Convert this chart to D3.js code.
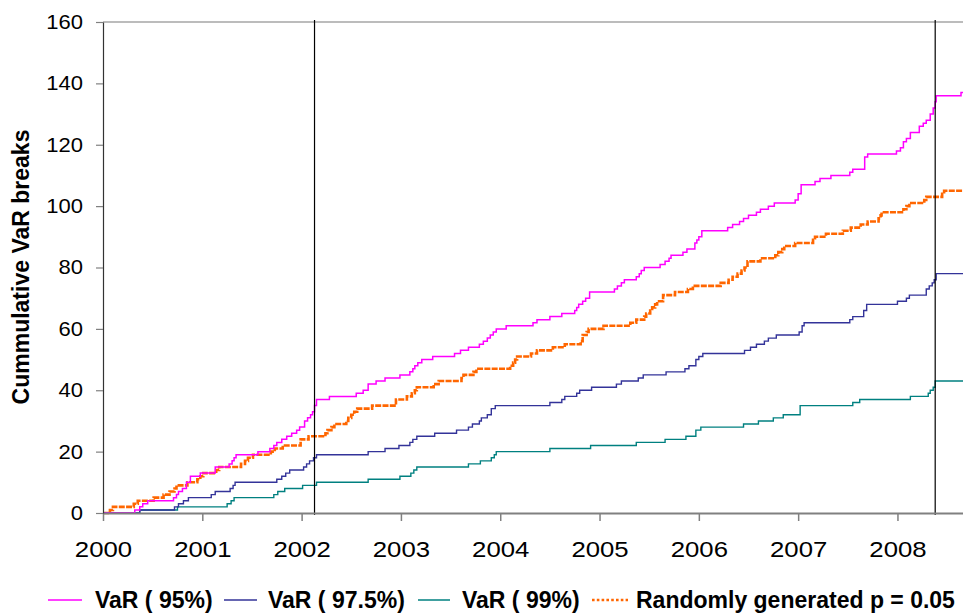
<!DOCTYPE html>
<html>
<head>
<meta charset="utf-8">
<script src="https://cdn.jsdelivr.net/npm/d3@7"></script>
<style>
  body { margin: 0; background: #fff; }
  svg { display: block; font-family: "Liberation Sans", Arial, sans-serif; }
</style>
</head>
<body>
<div id="chart"></div>
<script>
// cumulative VaR breaks, step points: [year, count]
const var95 = [[2000.00,0],[2000.32,1],[2000.37,2],[2000.40,3],[2000.45,4],[2000.71,5],[2000.74,6],[2000.76,7],[2000.80,8],[2000.84,10],[2000.88,12],[2000.98,13],[2001.13,15],[2001.27,16],[2001.30,17],[2001.32,18],[2001.34,19],[2001.56,20],[2001.68,21],[2001.72,22],[2001.75,23],[2001.80,24],[2001.85,25],[2001.90,26],[2001.95,27],[2001.98,28],[2002.03,30],[2002.06,31],[2002.09,32],[2002.11,33],[2002.13,35],[2002.15,37],[2002.28,38],[2002.55,39],[2002.62,40],[2002.67,42],[2002.75,43],[2002.84,44],[2002.99,45],[2003.09,46],[2003.12,47],[2003.14,48],[2003.17,49],[2003.21,50],[2003.32,51],[2003.54,52],[2003.60,53],[2003.68,54],[2003.79,55],[2003.83,56],[2003.87,57],[2003.90,58],[2003.93,59],[2003.96,60],[2004.06,61],[2004.33,62],[2004.37,63],[2004.50,64],[2004.62,65],[2004.75,66],[2004.77,67],[2004.79,68],[2004.83,69],[2004.86,70],[2004.90,72],[2005.15,73],[2005.18,74],[2005.22,75],[2005.25,76],[2005.37,77],[2005.40,78],[2005.42,79],[2005.45,80],[2005.61,81],[2005.66,82],[2005.70,83],[2005.72,84],[2005.84,85],[2005.88,86],[2005.96,88],[2005.98,89],[2006.00,90],[2006.03,92],[2006.29,93],[2006.34,94],[2006.41,95],[2006.45,96],[2006.50,97],[2006.58,98],[2006.62,99],[2006.70,100],[2006.76,101],[2006.97,102],[2007.00,104],[2007.03,107],[2007.17,108],[2007.22,109],[2007.33,110],[2007.52,111],[2007.55,112],[2007.67,116],[2007.70,117],[2007.99,118],[2008.03,119],[2008.06,121],[2008.09,122],[2008.13,124],[2008.22,126],[2008.26,127],[2008.29,128],[2008.33,130],[2008.36,132],[2008.38,134],[2008.39,136],[2008.64,137],[2008.66,137]];

const var975 = [[2000.00,0],[2000.37,1],[2000.72,2],[2000.76,3],[2000.81,4],[2000.86,5],[2001.09,6],[2001.13,7],[2001.28,8],[2001.31,9],[2001.33,10],[2001.75,11],[2001.80,12],[2001.84,13],[2001.88,14],[2002.02,15],[2002.05,16],[2002.08,17],[2002.12,18],[2002.15,19],[2002.67,20],[2002.84,21],[2002.98,22],[2003.09,23],[2003.12,24],[2003.16,25],[2003.34,26],[2003.56,27],[2003.68,28],[2003.72,29],[2003.79,30],[2003.81,31],[2003.87,32],[2003.91,34],[2003.95,35],[2004.50,36],[2004.62,37],[2004.65,38],[2004.77,39],[2004.80,40],[2004.92,41],[2005.17,42],[2005.22,43],[2005.39,44],[2005.44,45],[2005.67,46],[2005.86,47],[2005.90,48],[2005.97,50],[2006.00,51],[2006.04,52],[2006.46,53],[2006.52,54],[2006.58,55],[2006.66,56],[2006.70,57],[2006.78,58],[2007.01,59],[2007.04,61],[2007.06,62],[2007.52,63],[2007.55,64],[2007.66,66],[2007.69,68],[2008.00,69],[2008.09,70],[2008.12,71],[2008.29,73],[2008.32,74],[2008.35,75],[2008.37,76],[2008.39,78],[2008.66,78]];

const var99 = [[2000.00,0],[2000.37,1],[2000.75,2],[2001.25,3],[2001.29,4],[2001.32,5],[2001.72,6],[2001.76,7],[2001.83,8],[2002.01,9],[2002.15,10],[2002.67,11],[2002.99,12],[2003.10,13],[2003.13,14],[2003.16,15],[2003.68,16],[2003.80,17],[2003.91,18],[2003.94,19],[2003.96,20],[2004.50,21],[2004.91,22],[2005.37,23],[2005.66,24],[2005.87,25],[2005.97,27],[2006.02,28],[2006.45,29],[2006.60,30],[2006.75,31],[2006.85,32],[2007.02,35],[2007.55,36],[2007.62,37],[2008.13,38],[2008.31,39],[2008.33,40],[2008.36,41],[2008.38,43],[2008.66,43]];

const randomP05 = [[2000.00,0],[2000.07,1],[2000.10,2],[2000.31,3],[2000.35,4],[2000.51,5],[2000.61,6],[2000.67,7],[2000.72,8],[2000.74,9],[2000.85,10],[2000.95,11],[2000.98,12],[2001.01,13],[2001.14,14],[2001.17,15],[2001.39,16],[2001.43,17],[2001.46,18],[2001.51,19],[2001.69,20],[2001.73,21],[2001.81,22],[2001.99,24],[2002.07,25],[2002.24,26],[2002.26,27],[2002.30,28],[2002.33,29],[2002.45,30],[2002.47,31],[2002.50,32],[2002.53,33],[2002.56,34],[2002.71,35],[2002.95,37],[2003.06,38],[2003.11,39],[2003.14,40],[2003.16,41],[2003.33,42],[2003.38,43],[2003.61,44],[2003.63,45],[2003.73,46],[2003.76,47],[2004.10,48],[2004.13,49],[2004.15,50],[2004.17,51],[2004.31,52],[2004.37,53],[2004.53,54],[2004.65,55],[2004.81,56],[2004.83,58],[2004.87,59],[2004.89,60],[2005.04,61],[2005.31,62],[2005.37,63],[2005.45,64],[2005.47,65],[2005.51,66],[2005.53,67],[2005.56,68],[2005.58,69],[2005.64,71],[2005.76,72],[2005.89,73],[2005.94,74],[2006.22,75],[2006.30,76],[2006.34,77],[2006.39,78],[2006.43,79],[2006.46,80],[2006.49,82],[2006.62,83],[2006.77,84],[2006.80,85],[2006.84,86],[2006.86,87],[2006.97,88],[2007.15,89],[2007.17,90],[2007.28,91],[2007.45,92],[2007.53,93],[2007.63,94],[2007.70,95],[2007.81,96],[2007.83,97],[2007.84,98],[2008.06,99],[2008.09,100],[2008.12,101],[2008.27,102],[2008.29,103],[2008.45,104],[2008.47,105],[2008.66,105]];

const seriesNames = ["VaR ( 95%)", "VaR ( 97.5%)", "VaR ( 99%)", "Randomly generated p = 0.05"];
const yearTicks = [2000, 2001, 2002, 2003, 2004, 2005, 2006, 2007, 2008];
const yTicks = [0, 20, 40, 60, 80, 100, 120, 140, 160];
const markerYears = [2002.13, 2008.38];   // the two black vertical lines

const W = 963, H = 613;
const plotLeft = 103, plotRight = 963, plotTop = 22, plotBottom = 513;

const svg = d3.select("#chart").append("svg")
    .attr("width", W)
    .attr("height", H);

const x = d3.scaleLinear().domain([2000, 2008.66]).range([plotLeft, plotRight]);
const y = d3.scaleLinear().domain([0, 160]).range([plotBottom, plotTop]);

svg.append("defs").append("clipPath").attr("id", "plot")
    .append("rect")
    .attr("x", plotLeft).attr("y", plotTop - 2)
    .attr("width", plotRight - plotLeft).attr("height", plotBottom - plotTop + 4);

// top frame line
svg.append("line")
    .attr("x1", plotLeft).attr("x2", plotRight)
    .attr("y1", plotTop).attr("y2", plotTop)
    .attr("stroke", "#a6a6a6").attr("stroke-width", 1.5);

// series lines
const series = [
    { data: var95, color: "#ff00ff", width: 1.5, dash: null },
    { data: var975, color: "#333399", width: 1.4, dash: null },
    { data: var99, color: "#008080", width: 1.4, dash: null },
    { data: randomP05, color: "#ff6600", width: 2.6, dash: "6,1.3" }
];

const line = d3.line()
    .x(d => x(d[0]))
    .y(d => y(d[1]))
    .curve(d3.curveStepAfter);

const plot = svg.append("g").attr("clip-path", "url(#plot)");

// draw random series first so VaR lines sit on top
[3, 2, 1, 0].forEach(i => {
    const s = series[i];
    plot.append("path")
        .datum(s.data)
        .attr("fill", "none")
        .attr("stroke", s.color)
        .attr("stroke-width", s.width)
        .attr("stroke-dasharray", s.dash)
        .attr("d", line);
});

// vertical marker lines
svg.selectAll(".marker")
    .data(markerYears)
    .enter().append("line")
    .attr("class", "marker")
    .attr("x1", d => x(d)).attr("x2", d => x(d))
    .attr("y1", plotTop - 2).attr("y2", plotBottom + 2)
    .attr("stroke", "#000").attr("stroke-width", 1.2);

// x axis
const xAxis = svg.append("g")
    .attr("transform", `translate(0,${plotBottom})`)
    .call(d3.axisBottom(x).tickValues(yearTicks).tickSize(8).tickSizeOuter(0).tickFormat(d3.format("d")));
xAxis.select(".domain").attr("stroke", "#808080").attr("stroke-width", 2.2);
xAxis.selectAll(".tick line").attr("stroke", "#808080").attr("stroke-width", 1.5);
xAxis.selectAll(".tick text")
    .attr("y", 44).attr("dy", 0)
    .attr("transform", "scale(1.12,1)")
    .attr("font-size", 23)
    .attr("font-family", "Liberation Sans, Arial, sans-serif")
    .attr("fill", "#000");

// y axis
const yAxis = svg.append("g")
    .attr("transform", `translate(${plotLeft},0)`)
    .call(d3.axisLeft(y).tickValues(yTicks).tickSize(7).tickSizeOuter(0));
yAxis.select(".domain").attr("stroke", "#333").attr("stroke-width", 1.2);
yAxis.selectAll(".tick line").attr("stroke", "#808080").attr("stroke-width", 1.2);
yAxis.selectAll(".tick text")
    .attr("x", -20 / 1.1)
    .attr("transform", "scale(1.1,1)")
    .attr("font-size", 20)
    .attr("font-family", "Liberation Sans, Arial, sans-serif")
    .attr("fill", "#000");

// y axis title
svg.append("text")
    .attr("transform", "translate(29,267) rotate(-90)")
    .attr("text-anchor", "middle")
    .attr("font-size", 23)
    .attr("font-weight", "bold")
    .text("Cummulative VaR breaks");

// legend
const legendPos = [
    { x1: 48, x2: 82, tx: 95 },
    { x1: 224, x2: 257, tx: 268 },
    { x1: 418, x2: 450, tx: 462 },
    { x1: 592, x2: 628, tx: 636 }
];
const legendY = 600;

const legend = svg.append("g")
    .selectAll("g")
    .data(series)
    .enter().append("g");

legend.append("line")
    .attr("x1", (d, i) => legendPos[i].x1)
    .attr("x2", (d, i) => legendPos[i].x2)
    .attr("y1", legendY).attr("y2", legendY)
    .attr("stroke", d => d.color)
    .attr("stroke-width", d => d.dash ? 2.6 : 1.5)
    .attr("stroke-dasharray", d => d.dash ? "2.6,2.2" : null);

legend.append("text")
    .attr("x", (d, i) => legendPos[i].tx)
    .attr("y", legendY + 8)
    .attr("font-size", 23)
    .attr("font-weight", "bold")
    .text((d, i) => seriesNames[i]);
</script>
</body>
</html>
